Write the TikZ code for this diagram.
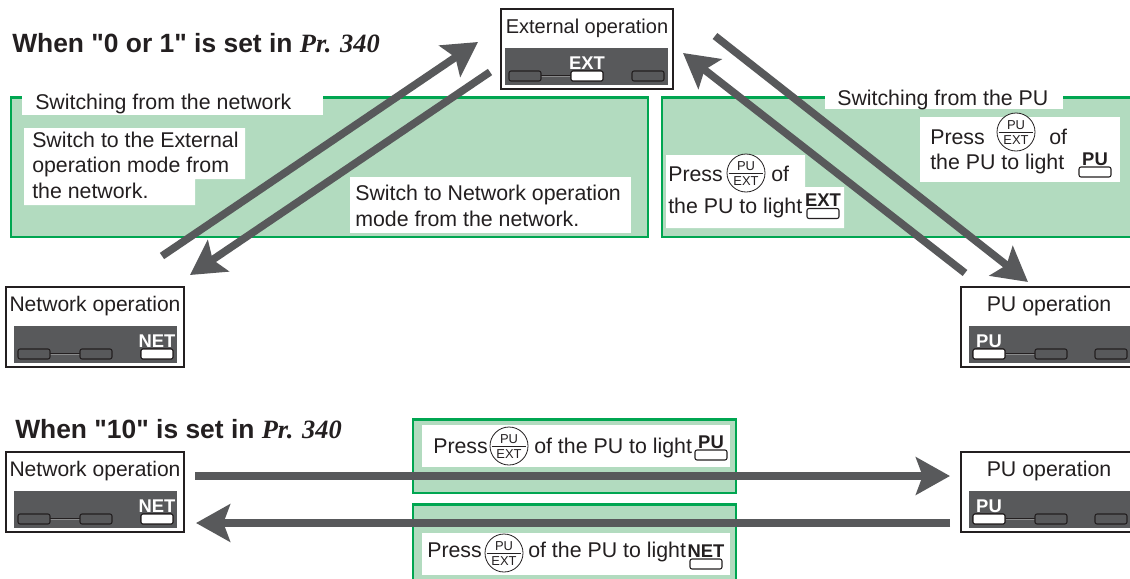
\documentclass[tikz,border=0pt]{standalone}
\usepackage{fontspec}
\usepackage{tikz}
\usetikzlibrary{arrows.meta}
\setmainfont{Liberation Sans}
\newfontfamily\headfont{Liberation Sans}
\newfontfamily\prfont{Liberation Serif}
\definecolor{panelgreen}{HTML}{B2DBBF}
\definecolor{edgegreen}{HTML}{00A651}
\definecolor{armgray}{HTML}{58595B}
\definecolor{inkgray}{HTML}{231F20}

\tikzset{
	txt/.style={anchor=base west, inner sep=0pt, text=inkgray, font=\fontsize{16}{19}\selectfont},
	head/.style={anchor=base west, inner sep=0pt, text=inkgray, font=\fontsize{19.8}{23}\selectfont\headfont\bfseries},
	ledtxt/.style={anchor=base, inner sep=0pt, font=\fontsize{13.8}{15}\selectfont\bfseries},
	keytxt/.style={anchor=base, inner sep=0pt, text=inkgray, font=\fontsize{9.7}{10}\selectfont},
	keyring/.style={draw=inkgray, circle, line width=0.6pt, fill=white, minimum size=28.5pt, inner sep=0pt},
	greenbox/.style={fill=panelgreen, draw=edgegreen, line width=1.8pt},
	modebox/.style={fill=white, draw=inkgray, line width=1.4pt},
	arm/.style={draw=armgray, line width=5.7pt, -{Stealth[length=25.5pt,width=28pt,inset=5pt]}},
	lamp/.style={draw=inkgray, rounded corners=1.5pt, line width=0.8pt},
}

% lamp at left x, top y
\newcommand{\lampat}[3]{\draw[lamp, #3] (#1, #2) rectangle ({#1+32}, {#2+10});}

% label, x, y, width, title, lamp x 1, 2, 3, lit lamp x
\newcommand{\modepanel}[9]{
	\draw[modebox] (#2, #3) rectangle ({#2+#4}, {#3+80});
	\node[txt, anchor=base] (title#1) at ({#2+#4/2}, {#3+24}) {#5};
	\fill[armgray] ({#6-4}, {#3+39}) rectangle ({#8+36}, {#3+76});
	\draw[inkgray, line width=1.6pt] ({#6+32}, {#3+67}) -- (#7, {#3+67});
	\draw[armgray!70!white, line width=0.4pt] ({#6+32}, {#3+67}) -- (#7, {#3+67});
	\lampat{#6}{#3+62}{fill=armgray}
	\lampat{#7}{#3+62}{fill=armgray}
	\lampat{#8}{#3+62}{fill=armgray}
	\lampat{#9}{#3+62}{fill=white}
	\node[ledtxt, text=white] (lit#1) at ({#9+16}, {#3+60}) {#1};
}

% name, centre
\newcommand{\pukey}[2]{
	\node[keyring] (#1) at (#2) {};
	\draw[inkgray, line width=0.5pt] ([xshift=-1.5pt]#1.west) ++(3pt,0) -- ([xshift=-1.5pt]#1.east);
	\node[keytxt] at ([yshift=1.8pt]#1.center) {PU};
	\node[keytxt] at ([yshift=-9.6pt]#1.center) {EXT};
}

% label, x lamp, y lamp
\newcommand{\lightmark}[3]{
	\lampat{#2}{#3}{fill=white}
	\node[ledtxt, text=inkgray] at ({#2+16}, {#3-2}) {#1};
}

\begin{document}
\begin{tikzpicture}[x=0.75pt, y=-0.75pt]
	\clip (0, 0) rectangle (1130, 578);

	% green panels
	\draw[greenbox] (11, 97.5) rectangle (648, 237);
	\draw[greenbox] (662, 97.5) rectangle (1140, 237);
	\draw[greenbox] (413, 419.5) rectangle (736, 493);
	\draw[greenbox] (413, 504.5) rectangle (736, 590);

	% white patches
	\fill[white] (22, 86) rectangle (323, 115);
	\fill[white] (24, 128) -- (245, 128) -- (245, 179) -- (195, 179) -- (195, 205) -- (24, 205) -- cycle;
	\fill[white] (350, 177) rectangle (631, 233);
	\fill[white] (825, 86) rectangle (1063, 109);
	\fill[white] (920, 117) rectangle (1120, 182);
	\fill[white] (666, 155) -- (805, 155) -- (805, 187) -- (844, 187) -- (844, 228) -- (666, 228) -- cycle;
	\fill[white] (422, 425) rectangle (730, 467);
	\fill[white] (422, 533) rectangle (730, 575);

	% headings
	\node[head] (headA) at (12, 52) {When "0 or 1" is set in {\prfont\itshape Pr. 340}};
	\node[head] (headB) at (15, 438) {When "10" is set in {\prfont\itshape Pr. 340}};

	% texts
	\node[txt] (swNet) at (35, 109) {Switching from the network};
	\node[txt] (swExtA) at (32, 147) {Switch to the External};
	\node[txt] (swExtB) at (32, 172) {operation mode from};
	\node[txt] (swExtC) at (32, 198) {the network.};
	\node[txt] (swModeA) at (355, 200) {Switch to Network operation};
	\node[txt] (swModeB) at (355, 226) {mode from the network.};
	\node[txt] (swPu) at (837, 105) {Switching from the PU};

	\node[txt] (pressR) at (930, 144) {Press};
	\pukey{keyR}{1016, 132}
	\node[txt] (ofR) at (1049, 144) {of};
	\node[txt] (lightR) at (930, 169) {the PU to light};
	\lightmark{PU}{1079}{167}

	\node[txt] (pressL) at (668, 181) {Press};
	\pukey{keyL}{746, 173}
	\node[txt] (ofL) at (771, 181) {of};
	\node[txt] (lightL) at (668, 213) {the PU to light};
	\lightmark{EXT}{807}{208.5}

	\node[txt] (pressT) at (433, 453) {Press};
	\pukey{keyT}{509, 446}
	\node[txt] (lightT) at (534, 453) {of the PU to light};
	\lightmark{PU}{695}{450}

	\node[txt] (pressB) at (427, 557) {Press};
	\pukey{keyB}{504, 553}
	\node[txt] (lightB) at (528, 557) {of the PU to light};
	\lightmark{NET}{690}{559}

	% mode panels
	\modepanel{EXT}{501}{9}{172}{\fontsize{15}{18}\selectfont External operation}{509}{571}{632}{571}
	\begin{scope}
		\modepanel{NET}{6}{287}{178}{\fontsize{15.8}{19}\selectfont Network operation}{18}{80}{141}{141}
		\modepanel{PU}{961}{287}{176}{PU operation}{973}{1035}{1095}{973}
	\end{scope}
	\begin{scope}
		\modepanel{NET}{6}{452}{178}{\fontsize{15.8}{19}\selectfont Network operation}{18}{80}{141}{141}
		\modepanel{PU}{961}{452}{176}{PU operation}{973}{1035}{1095}{973}
	\end{scope}

	% arrow ends
	\coordinate (netOut) at (162, 256);
	\coordinate (extIn) at (478, 42);
	\coordinate (extOut) at (490, 72);
	\coordinate (netIn) at (190, 275);
	\coordinate (puBack) at (965, 273);
	\coordinate (extBack) at (683, 53);
	\coordinate (extFwd) at (715, 36);
	\coordinate (puIn) at (1028, 282);
	\coordinate (rowNetOut) at (195, 476);
	\coordinate (rowPuIn) at (950, 476);
	\coordinate (rowPuOut) at (950, 523);
	\coordinate (rowNetIn) at (196, 523);

	\draw[arm] (netOut) -- (extIn);
	\draw[arm] (extOut) -- (netIn);
	\draw[arm] (puBack) -- (extBack);
	\draw[arm] (extFwd) -- (puIn);
	\draw[arm] (rowNetOut) -- (rowPuIn);
	\draw[arm] (rowPuOut) -- (rowNetIn);
\end{tikzpicture}
\end{document}
